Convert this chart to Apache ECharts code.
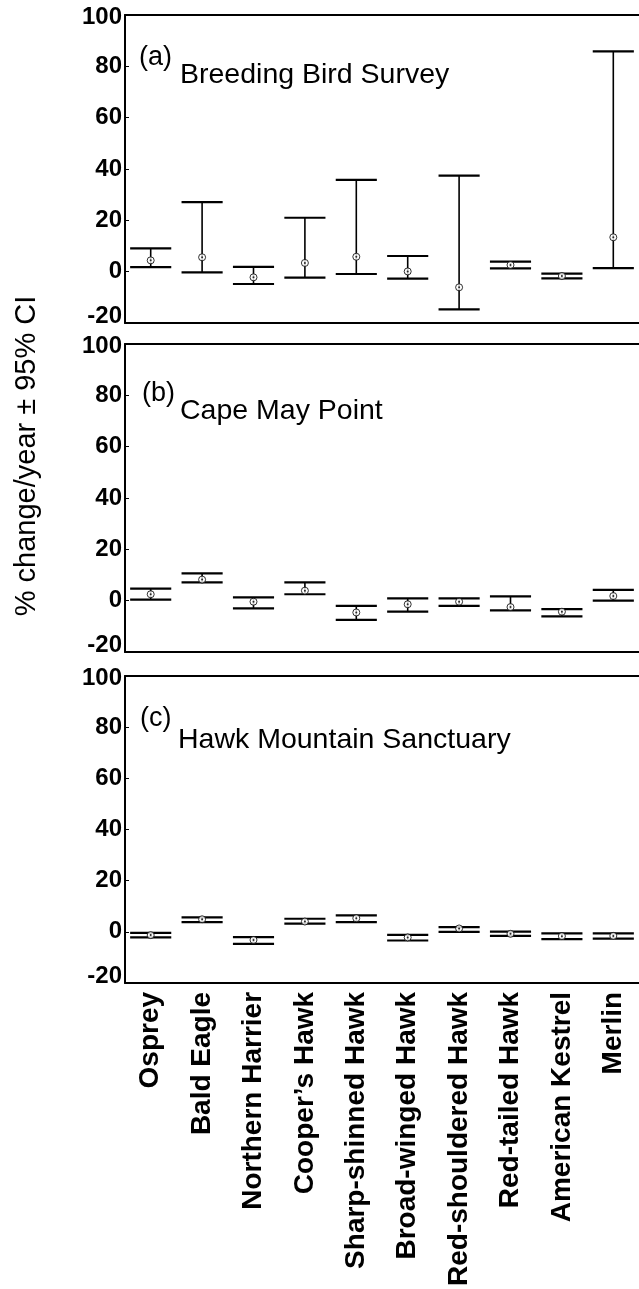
<!DOCTYPE html>
<html style="height: 100%">
   <head>
       <meta charset="utf-8">
   </head>
   <body style="height: 100%; margin: 0; background: #fff">
       <div id="container" style="width: 639px; height: 1289px"></div>
       <script type="text/javascript" src="https://cdn.jsdelivr.net/npm/echarts@6/dist/echarts.min.js"></script>

       <script type="text/javascript">
var categories = ['Osprey', 'Bald Eagle', 'Northern Harrier', 'Cooper\u2019s Hawk', 'Sharp-shinned Hawk',
    'Broad-winged Hawk', 'Red-shouldered Hawk', 'Red-tailed Hawk', 'American Kestrel', 'Merlin'];
var yTicks = [-20, 0, 20, 40, 60, 80, 100];

// (a) Breeding Bird Survey
var bbsMean = [4.4, 5.6, -2.2, 3.4, 5.8, 0.1, -6.1, 2.6, -1.7, 13.4];
var bbsLow = [1.8, -0.3, -4.8, -2.3, -0.9, -2.7, -14.7, 1.3, -2.6, 1.4];
var bbsHigh = [9.1, 27.1, 1.9, 21.0, 35.8, 6.1, 37.4, 3.9, -0.8, 85.8];
// (b) Cape May Point
var cmpMean = [2.5, 8.2, -0.4, 3.9, -4.6, -1.4, -0.4, -2.5, -4.3, 1.8];
var cmpLow = [0.4, 7.1, -3.0, 2.5, -7.5, -4.3, -2.0, -3.8, -6.1, 0.0];
var cmpHigh = [4.7, 10.6, 1.3, 7.1, -2.0, 0.9, 0.9, 1.7, -3.3, 4.2];
// (c) Hawk Mountain Sanctuary
var hmsMean = [-1.3, 4.9, -3.2, 4.0, 5.3, -2.2, 1.3, -0.8, -1.7, -1.6];
var hmsLow = [-2.2, 3.8, -4.7, 3.2, 3.8, -3.4, 0.0, -1.6, -2.9, -2.7];
var hmsHigh = [-0.4, 5.6, -2.1, 5.1, 6.4, -1.2, 1.8, 0.1, -0.6, -0.6];

var panels = [
    {tag: '(a)', name: 'Breeding Bird Survey', mean: bbsMean, low: bbsLow, high: bbsHigh},
    {tag: '(b)', name: 'Cape May Point', mean: cmpMean, low: cmpLow, high: cmpHigh},
    {tag: '(c)', name: 'Hawk Mountain Sanctuary', mean: hmsMean, low: hmsLow, high: hmsHigh}
];

var FONT = 'Arial, "Liberation Sans", sans-serif';
var gridTops = [15, 344, 676];
var gridH = 308;
var tagTops = [44, 380, 705];
var nameTops = [61, 397, 726];
var tagLeft = [139, 142, 140];
var nameLeft = [180, 180, 178];

function renderErr(params, api) {
    var x = api.value(0);
    var pLo = api.coord([x, api.value(1)]);
    var pHi = api.coord([x, api.value(2)]);
    var half = api.size([1, 0])[0] * 0.4;
    return {
        type: 'group',
        children: [
            {type: 'line', shape: {x1: pLo[0], y1: pLo[1], x2: pHi[0], y2: pHi[1]},
             style: {stroke: '#000', lineWidth: 1.6}},
            {type: 'line', shape: {x1: pLo[0] - half, y1: pLo[1], x2: pLo[0] + half, y2: pLo[1]},
             style: {stroke: '#000', lineWidth: 2.2}},
            {type: 'line', shape: {x1: pHi[0] - half, y1: pHi[1], x2: pHi[0] + half, y2: pHi[1]},
             style: {stroke: '#000', lineWidth: 2.2}}
        ]
    };
}

var grids = [], xAxes = [], yAxes = [], series = [], titles = [];

panels.forEach(function (p, k) {
    grids.push({left: 125, top: gridTops[k], width: 522, height: gridH});

    // bottom category axis
    xAxes.push({
        type: 'category', gridIndex: k, data: categories, position: 'bottom',
        axisLine: {onZero: false, lineStyle: {color: '#000', width: 2}},
        axisTick: {inside: true, length: 4, lineStyle: {color: '#000', width: 1}},
        axisLabel: {
            show: k === 2, rotate: 90, interval: 0, margin: 9,
            color: '#000', fontSize: 28, fontWeight: 'bold', fontFamily: FONT
        },
        splitLine: {show: false}
    });
    // top frame with ticks
    xAxes.push({
        type: 'category', gridIndex: k, data: categories, position: 'top',
        axisLine: {onZero: false, lineStyle: {color: '#000', width: 2}},
        axisTick: {inside: true, length: 4, lineStyle: {color: '#000', width: 1}},
        axisLabel: {show: false},
        splitLine: {show: false}
    });

    yAxes.push({
        type: 'value', gridIndex: k, min: yTicks[0], max: yTicks[yTicks.length - 1], interval: 20,
        axisLine: {show: true, onZero: false, lineStyle: {color: '#000', width: 2}},
        axisTick: {show: true, inside: true, length: 4, lineStyle: {color: '#000', width: 1}},
        splitLine: {show: false},
        axisLabel: {
            margin: 3, color: '#000', fontSize: 24, fontWeight: 'bold', fontFamily: FONT,
            formatter: function (v) {
                if (v === -20) return '{lo|' + v + '}';
                if (v === 100) return '{hi|' + v + '}';
                return String(v);
            },
            rich: {
                lo: {fontSize: 24, fontWeight: 'bold', fontFamily: FONT, color: '#000', padding: [0, 0, 14, 0]},
                hi: {fontSize: 24, fontWeight: 'bold', fontFamily: FONT, color: '#000', padding: [5, 0, 0, 0]}
            }
        }
    });

    var errData = categories.map(function (c, i) { return [i, p.low[i], p.high[i]]; });
    var meanData = categories.map(function (c, i) { return [i, p.mean[i]]; });

    series.push({
        type: 'custom', xAxisIndex: 2 * k, yAxisIndex: k,
        renderItem: renderErr, encode: {x: 0, y: [1, 2]},
        data: errData, silent: true, clip: false
    });
    series.push({
        type: 'scatter', xAxisIndex: 2 * k, yAxisIndex: k,
        symbol: 'circle', symbolSize: 7,
        itemStyle: {color: '#fff', borderColor: '#000', borderWidth: 1},
        data: meanData, silent: true, z: 5
    });
    series.push({
        type: 'scatter', xAxisIndex: 2 * k, yAxisIndex: k,
        symbol: 'circle', symbolSize: 2,
        itemStyle: {color: '#000'},
        data: meanData, silent: true, z: 6
    });

    titles.push({
        text: p.tag, left: tagLeft[k], top: tagTops[k], padding: 0,
        textStyle: {fontSize: 27, fontWeight: 'normal', color: '#000', fontFamily: FONT}
    });
    titles.push({
        text: p.name, left: nameLeft[k], top: nameTops[k], padding: 0,
        textStyle: {fontSize: 28.5, fontWeight: 'normal', color: '#000', fontFamily: FONT}
    });
});

var myChart = echarts.init(document.getElementById('container'));
var option = {
    backgroundColor: '#fff',
    animation: false,
    title: titles,
    grid: grids,
    xAxis: xAxes,
    yAxis: yAxes,
    series: series,
    graphic: [{
        type: 'text', x: 27, y: 456, rotation: Math.PI / 2,
        style: {
            text: '% change/year \u00b1 95% CI', fill: '#000',
            font: 'normal 29px ' + FONT, textAlign: 'center', textVerticalAlign: 'middle'
        }
    }]
};
myChart.setOption(option);
       </script>
   </body>
</html>
